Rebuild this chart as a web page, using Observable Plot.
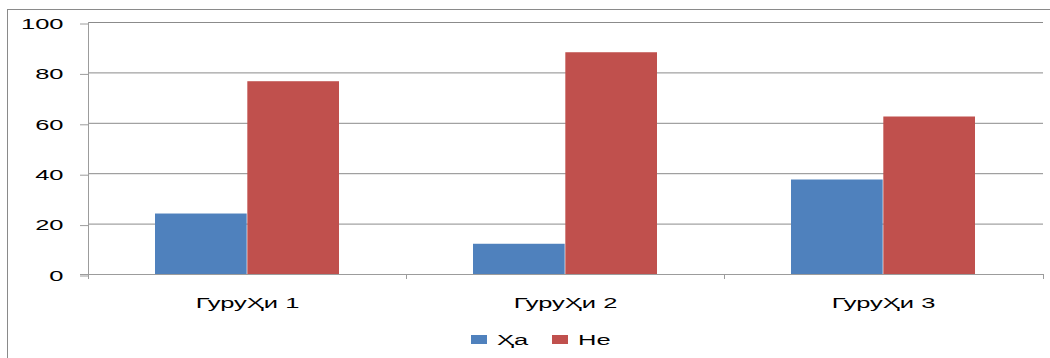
<!DOCTYPE html>
<html><head><meta charset="utf-8">
<script src="https://cdn.jsdelivr.net/npm/d3@7"></script>
<script src="https://cdn.jsdelivr.net/npm/@observablehq/plot@0.6"></script>
<style>
html,body{margin:0;padding:0;background:#fff;overflow:hidden}
#wrap{position:relative;width:1050px;height:358px;overflow:hidden}
#frame{position:absolute;left:7px;top:9px;width:1100px;height:400px;border-left:1px solid #8a8a8a;border-top:1px solid #8a8a8a;pointer-events:none}
svg{display:block}
</style></head><body>
<div id="wrap"><div id="chart"></div><div id="legend"></div><div id="frame"></div></div>
<script>
const groups = ["ГуруҲи 1", "ГуруҲи 2", "ГуруҲи 3"];
const seriesNames = ["Ҳа", "Не"];
const yesValues = [24, 12, 37.5];
const noValues = [76.5, 88, 62.5];
const yTicks = [0, 20, 40, 60, 80, 100];
const colors = ["#4F81BD", "#C0504D"];

const data = [];
groups.forEach((g, i) => {
  data.push({group: g, series: seriesNames[0], value: yesValues[i]});
  data.push({group: g, series: seriesNames[1], value: noValues[i]});
});

const W = 1050, H = 324, mL = 88, mR = 7, mT = 22, mB = 50;
const padIn = 0.42, padOut = 0.21;
const step = (W - mL - mR) / groups.length;
const bw = step * (1 - padIn);
const gridColor = "#8b8b8b", axisColor = "#9c9c9c";
const STRETCH = 1.7;
const font = "'Liberation Sans', Arial, sans-serif";

const plot = Plot.plot({
  width: W, height: H,
  marginLeft: mL, marginRight: mR, marginTop: mT, marginBottom: mB,
  style: {fontFamily: font, fontSize: "15px", color: "#000", background: "#fff"},
  x: {type: "band", domain: groups, paddingInner: padIn, paddingOuter: padOut, label: null},
  y: {domain: [0, 100], label: null},
  color: {domain: seriesNames, range: colors},
  marks: [
    Plot.gridY(yTicks, {stroke: gridColor, strokeOpacity: 1}),
    Plot.barY(data.filter(d => d.series === seriesNames[0]), {x: "group", y: "value", fill: "series", insetRight: bw / 2}),
    Plot.barY(data.filter(d => d.series === seriesNames[1]), {x: "group", y: "value", fill: "series", insetLeft: bw / 2}),
    Plot.axisY(yTicks, {tickSize: 8, tickPadding: 17, stroke: axisColor, strokeOpacity: 1, label: null, fontSize: 15, dy: 1.5, tickFormat: d => String(d)}),
    Plot.axisX({tickSize: 0, tickPadding: 23, label: null, fontSize: 15})
  ]
});

const svg = d3.select(plot);
// stretch text horizontally like the reference
function stretch(sel) {
  sel.selectAll("text").each(function() {
    const x = +(this.getAttribute("x") || 0);
    const t = this.getAttribute("transform") || "";
    this.setAttribute("transform", `${t} translate(${x},0) scale(${STRETCH},1) translate(${-x},0)`);
  });
}
stretch(svg);

// axis lines and category boundary ticks
const ys = plot.scale("y");
const y0 = ys.apply(0), y100 = ys.apply(100);
const deco = svg.append("g").attr("stroke", axisColor).attr("shape-rendering", "crispEdges");
deco.append("line").attr("x1", mL).attr("x2", mL).attr("y1", y100).attr("y2", y0 + 5);
deco.append("line").attr("x1", mL - 8).attr("x2", W - mR).attr("y1", y0).attr("y2", y0);
for (let i = 0; i <= groups.length; i++) {
  const x = mL + i * step;
  deco.append("line").attr("x1", x).attr("x2", x).attr("y1", y0).attr("y2", y0 + 5);
}
document.getElementById("chart").appendChild(plot);

// legend (below the chart)
const LH = 358 - H;
const leg = d3.select("#legend").append("svg").attr("width", W).attr("height", LH)
  .style("font-family", font).style("font-size", "15px");
const items = [{x: 471, tx: 497}, {x: 552, tx: 578}];
seriesNames.forEach((s, i) => {
  const g = leg.append("g");
  g.append("rect").attr("x", items[i].x).attr("y", 11).attr("width", 16).attr("height", 9).attr("fill", colors[i]);
  g.append("text").attr("x", items[i].tx).attr("y", 16).attr("dy", "0.35em").attr("fill", "#000").text(s);
});
stretch(leg);
</script>
</body></html>
